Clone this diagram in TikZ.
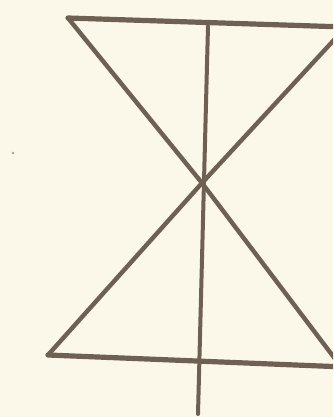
\documentclass[tikz,border=0pt]{standalone}
\definecolor{paper}{HTML}{FCF8E9}
\definecolor{ink}{HTML}{6E6153}
\begin{document}
\begin{tikzpicture}[x=1pt,y=-1pt,
  stroke/.style={draw=ink,line width=4.4pt,line cap=round,line join=round}]
\fill[paper] (0,0) rectangle (333,417);
\useasboundingbox (0,0) rectangle (333,417);
\clip (0,0) rectangle (333,417);
\coordinate (TL) at (68,18);
\coordinate (TR) at (345,27);
\coordinate (BL) at (48,355);
\coordinate (BR) at (345,367);
\coordinate (C) at (202,183);
\coordinate (VT) at (208,26);
\coordinate (VB) at (198,414);
% top bar
\draw[stroke,line width=5.2pt] (TL) -- (TR);
% diagonals
\draw[stroke] (TL) -- (C) -- (345,372);
\draw[stroke] (BL) -- (C) -- (345,28);
% bottom bar
\draw[stroke,line width=5.2pt] (BL) -- (BR);
% vertical
\draw[stroke,line width=4pt] (VT) -- (VB);
% speck
\fill[ink!60] (13,153) circle (1.3pt);
\end{tikzpicture}
\end{document}
